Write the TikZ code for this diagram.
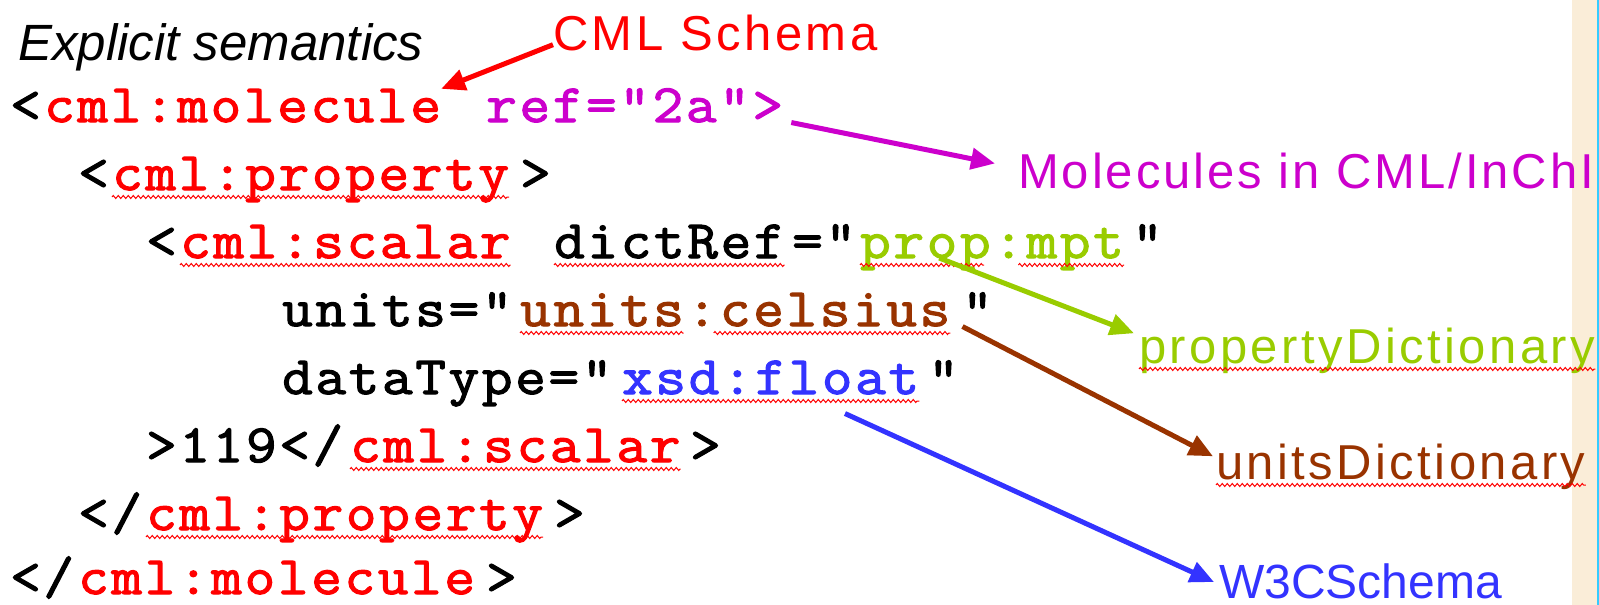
\documentclass[tikz,border=0pt]{standalone}
\usepackage{fontspec}
\setmainfont{Liberation Sans}
\newfontfamily\codefont[FakeBold=2.2, FakeStretch=1.1, LetterSpace=5, Ligatures=NoCommon]{Latin Modern Mono}
\newfontfamily\tagfont[LetterSpace=7]{Liberation Sans}
\newfontfamily\tagplain{Liberation Sans}
\usetikzlibrary{arrows.meta,calc,decorations.pathmorphing}
\definecolor{cmlRed}{HTML}{FF0000}
\definecolor{refMag}{HTML}{CC00CC}
\definecolor{propGreen}{HTML}{99CC00}
\definecolor{unitBrown}{HTML}{993300}
\definecolor{xsdBlue}{HTML}{3333FF}
\definecolor{stripBeige}{HTML}{FAEDD8}
\definecolor{stripCyan}{HTML}{33CCFF}

\begin{document}
\begin{tikzpicture}[x=1pt, y=-1pt,
    code/.style={font=\codefont\fontsize{54}{64}\selectfont, inner sep=0pt, anchor=base west},
    tag/.style={font=\tagfont\fontsize{49}{58}\selectfont, inner sep=0pt, anchor=base west},
    pointer/.style={line width=5pt, -{Triangle[length=24pt,width=21pt]}},
    squig/.style={draw=red, line width=1pt, decorate,
                  decoration={zigzag, amplitude=1.5pt, segment length=5pt}}
  ]
  \useasboundingbox (0,0) rectangle (1599,605);
  \fill[stripBeige] (1572,0) rectangle (1597,605);
  \fill[stripCyan] (1597,0) rectangle (1599,605);

  % code lines, one column = 34
  \node[code] (l1a) at (10,122) {<};
  \node[code, cmlRed] (mol1) at (44,122) {cml:molecule};
  \node[code, refMag] (ref) at (486,122) {ref=“2a”>};

  \node[code] (l2a) at (78,190) {<};
  \node[code, cmlRed] (prop1) at (112,190) {cml:property};
  \node[code] (l2b) at (520,190) {>};

  \node[code] (l3a) at (146,258) {<};
  \node[code, cmlRed] (scal1) at (180,258) {cml:scalar};
  \node[code] (dict) at (554,258) {dictRef};
  \node[code] (l3b) at (792,258) {=“};
  \node[code, propGreen] (pm) at (860,258) {prop:mpt};
  \node[code] (l3c) at (1132,258) {”};

  \node[code] (l4a) at (282,326) {units=“};
  \node[code, unitBrown] (uc) at (520,326) {units:celsius};
  \node[code] (l4b) at (962,326) {”};

  \node[code] (l5a) at (282,394) {dataType=“};
  \node[code, xsdBlue] (xf) at (622,394) {xsd:float};
  \node[code] (l5b) at (928,394) {”};

  \node[code] (l6a) at (146,462) {>119</};
  \node[code, cmlRed] (scal2) at (350,462) {cml:scalar};
  \node[code] (l6b) at (690,462) {>};

  \node[code] (l7a) at (78,530) {</};
  \node[code, cmlRed] (prop2) at (146,530) {cml:property};
  \node[code] (l7b) at (554,530) {>};

  \node[code] (l8a) at (10,594) {</};
  \node[code, cmlRed] (mol2) at (78,594) {cml:molecule};
  \node[code] (l8b) at (486,594) {>};

  % labels
  \node[tag, font=\tagplain\fontsize{51}{60}\selectfont\itshape] (expl) at (18,60) {Explicit semantics};
  \node[tag, cmlRed] (schema) at (553,50) {CML Schema};
  \node[tag, refMag, font=\tagplain\addfontfeatures{LetterSpace=6}\fontsize{49}{58}\selectfont] (molcs) at (1018,188) {Molecules in CML/InChI};
  \node[tag, propGreen] (propdict) at (1139,363) {propertyDictionary};
  \node[tag, unitBrown] (unitdict) at (1216,479) {unitsDictionary};
  \node[tag, xsdBlue, font=\tagplain\fontsize{48}{58}\selectfont] (w3c) at (1219,598) {W3CSchema};

  % spelling squiggles
  \foreach \n in {prop1,scal1,dict,xf,scal2,prop2} {
    \draw[squig] ([yshift=-7pt]\n.base west) -- ([yshift=-7pt]\n.base east);
  }
  \draw[squig] ([yshift=-7pt]pm.base west) -- ([yshift=-7pt]$(pm.base west)!0.47!(pm.base east)$);
  \draw[squig] ([yshift=-7pt]$(pm.base west)!0.6!(pm.base east)$) -- ([yshift=-7pt]pm.base east);
  \draw[squig] ([yshift=-7pt]uc.base west) -- ([yshift=-7pt]$(uc.base west)!0.38!(uc.base east)$);
  \draw[squig] ([yshift=-7pt]$(uc.base west)!0.45!(uc.base east)$) -- ([yshift=-7pt]uc.base east);
  \foreach \n in {propdict,unitdict} {
    \draw[squig] ([yshift=-6pt]\n.base west) -- ([yshift=-6pt]\n.base east);
  }

  % pointers
  \draw[pointer, cmlRed] ([yshift=6pt]schema.south west) -- (mol1.north east);
  \draw[pointer, refMag] ([xshift=8pt]ref.south east) -- ([xshift=-23pt,yshift=7pt]molcs.west);
  \draw[pointer, propGreen] ($(pm.base west)!0.3!(pm.base east)$) -- ([xshift=-5pt,yshift=-6pt]propdict.north west);
  \draw[pointer, unitBrown] ([xshift=12pt]uc.south east) -- ([xshift=-3pt,yshift=-13pt]unitdict.north west);
  \draw[pointer, xsdBlue] ($(xf.south west)!0.75!(xf.south east) + (0,19)$) -- ([xshift=-5pt,yshift=-19pt]w3c.north west);
\end{tikzpicture}
\end{document}
